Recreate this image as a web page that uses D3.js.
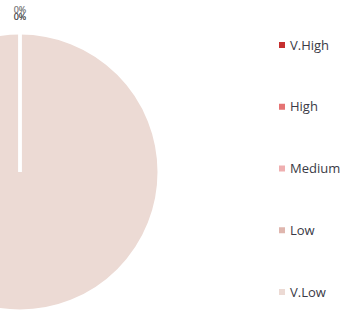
<!DOCTYPE html>
<html>
<head>
<meta charset="utf-8">
<script src="https://cdn.jsdelivr.net/npm/d3@7"></script>
<style>
  body { margin: 0; background: #fff; }
  text { font-family: "Open Sans", sans-serif; }
</style>
</head>
<body>
<div id="main"></div>
<script>

// data

const categories = ['V.High', 'High', 'Medium', 'Low', 'V.Low'];
const values = [0, 0, 0, 0, 100];
const colors = ['#c62f2f', '#e57373', '#efafb0', '#dfb6ae', '#ecdad4'];

const w = 348;
const h = 318;

// svg

const svg = d3.select('#main').append('svg').attr('width', w).attr('height', h);

const radius = 139;
const cx = 20;
const cy = 172;

const pie = d3.pie().sort(null).value(d => d.value);
const arc = d3.arc().innerRadius(0).outerRadius(radius);

const slices = pie(categories.map((c, i) => ({ name: c, value: values[i], color: colors[i] })));

const g = svg.append('g').attr('transform', `translate(${cx},${cy})`);

g.selectAll('path.slice')
    .data(slices)
    .enter()
    .append('path')
    .attr('class', 'slice')
    .attr('d', arc)
    .attr('fill', d => d.data.color)
    .attr('stroke', '#fff')
    .attr('stroke-width', 3)
    .attr('stroke-linejoin', 'round');

// empty slices still leave their white border edge
g.selectAll('line.edge')
    .data(slices.filter(d => d.endAngle - d.startAngle === 0))
    .enter()
    .append('line')
    .attr('class', 'edge')
    .attr('x1', 0)
    .attr('y1', 0)
    .attr('x2', d => Math.sin(d.startAngle) * radius)
    .attr('y2', d => -Math.cos(d.startAngle) * radius)
    .attr('stroke', '#fff')
    .attr('stroke-width', 3);

// labels (the zero slices all pile up at the top)

const total = d3.sum(values);

g.selectAll('text.lbl')
    .data(slices.filter(d => d.data.value === 0))
    .enter()
    .append('text')
    .attr('class', 'lbl')
    .attr('x', d => Math.sin(d.startAngle) * (radius + 16))
    .attr('y', (d, i) => -Math.cos(d.startAngle) * (radius + (i % 2 ? 13 : 20)))
    .attr('text-anchor', 'middle')
    .attr('font-size', 9)
    .attr('fill', (d, i) => i % 2 ? '#555' : '#888')
    .text(d => Math.round(d.data.value / total * 100) + '%');

// legend

const ly = d3.scalePoint().domain(categories).range([45, 292]);

const legend = svg.append('g').attr('class', 'legend');

const item = legend.selectAll('g')
    .data(categories)
    .enter()
    .append('g')
    .attr('transform', d => `translate(279,${ly(d)})`);

item.append('rect')
    .attr('x', 0)
    .attr('y', -3)
    .attr('width', 6)
    .attr('height', 6)
    .attr('fill', (d, i) => colors[i]);

item.append('text')
    .attr('x', 11)
    .attr('y', 0)
    .attr('dy', '0.35em')
    .attr('font-size', 13)
    .attr('fill', '#3a3a46')
    .text(d => d);

</script>
</body>
</html>
